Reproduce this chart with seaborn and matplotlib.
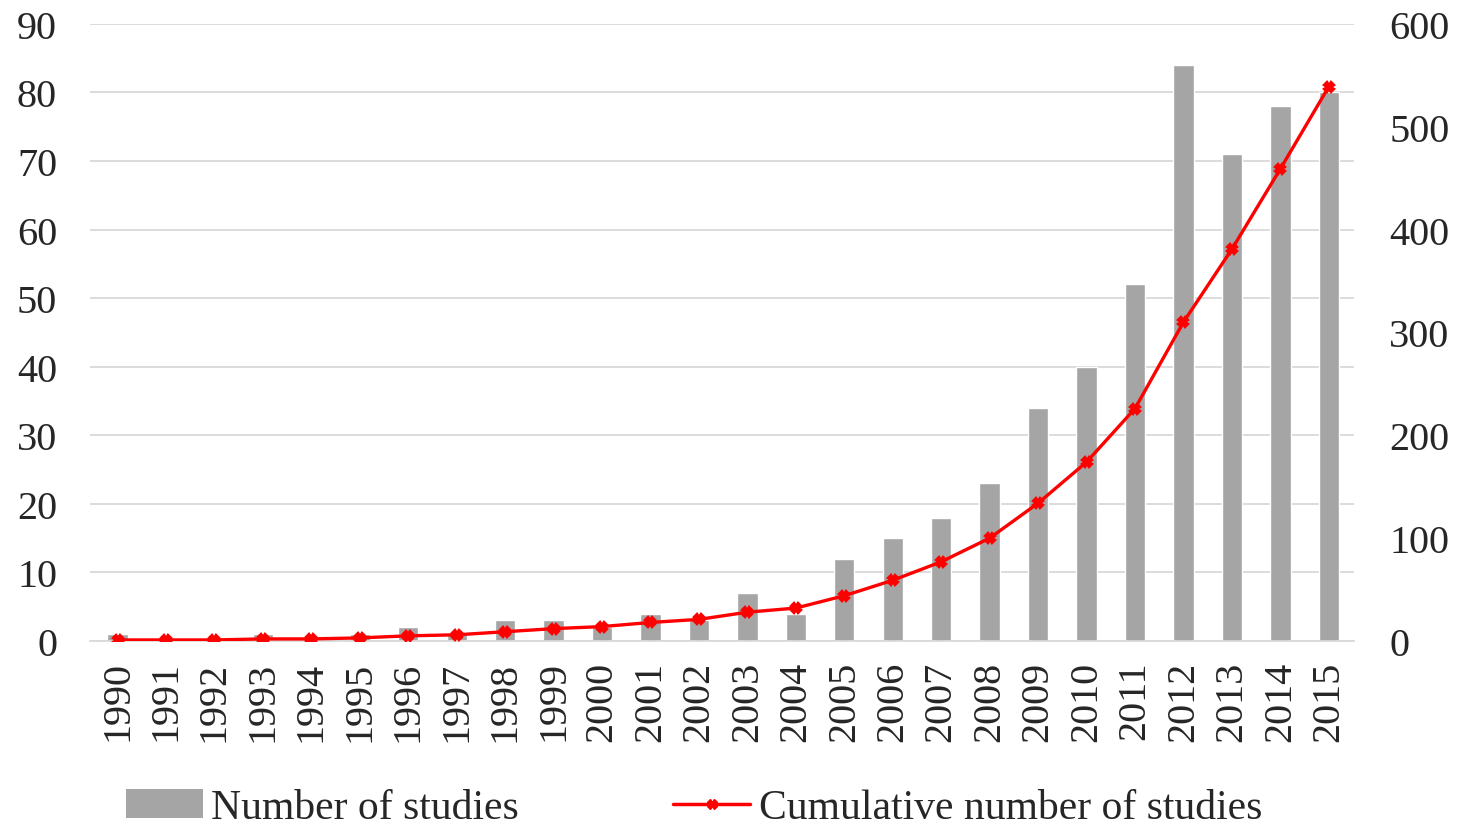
import numpy as np
import pandas as pd
import matplotlib.pyplot as plt
import seaborn as sns
from matplotlib.patches import Patch
from matplotlib.lines import Line2D

# data
years = [str(y) for y in range(1990, 2016)]
studies = [1, 0, 0, 1, 0, 1, 2, 1, 3, 3, 2, 4, 3, 7, 4, 12, 15, 18, 23, 34, 40, 52, 84, 71, 78, 80]
cumulative = [1, 1, 1, 2, 2, 3, 5, 6, 9, 12, 14, 18, 21, 28, 32, 44, 59, 77, 100, 134, 174, 226, 310, 381, 459, 539]

df = pd.DataFrame({'year': years, 'studies': studies, 'cumulative': cumulative})

sns.set_style('white')
plt.rcParams['font.family'] = ['Liberation Serif', 'DejaVu Serif']

fig = plt.figure(figsize=(14.58, 8.29), dpi=100)
ax = fig.add_axes([0.062, 0.2256, 0.867, 0.7444])

# bars (left axis)
sns.barplot(data=df, x='year', y='studies', color='#A5A5A5', width=0.42,
            saturation=1, ax=ax, zorder=2)
ax.set_ylim(0, 90)
ax.set_yticks(range(0, 91, 10))
ax.set_xlim(-0.56, 25.53)
ax.yaxis.grid(True, color='#D9D9D9', linewidth=1.3, zorder=0)
ax.set_axisbelow(True)
ax.set_xlabel('')
ax.set_ylabel('')
ax.tick_params(axis='y', labelsize=29, pad=24, length=0)
ax.tick_params(axis='x', labelsize=29, rotation=90, length=0, pad=14)
for s in ['top', 'left', 'right']:
    ax.spines[s].set_visible(False)
ax.spines['bottom'].set_color('#D9D9D9')
ax.spines['bottom'].set_linewidth(1.3)

# cumulative line (right axis)
ax2 = ax.twinx()
sns.pointplot(data=df, x='year', y='cumulative', color='#FF0000', marker='X',
              markersize=7, linewidth=2.4, ax=ax2)
ax2.set_ylim(0, 600)
ax2.set_yticks(range(0, 601, 100))
ax2.set_xlim(-0.56, 25.53)
ax2.set_ylabel('')
ax2.tick_params(axis='y', labelsize=29, pad=25, length=0)
for s in ['top', 'left', 'right', 'bottom']:
    ax2.spines[s].set_visible(False)

handles = [Patch(facecolor='#A5A5A5', edgecolor='none'),
           Line2D([0], [0], color='#FF0000', linewidth=2.5, marker='X', markersize=7)]
fig.legend(handles, ['Number of studies', 'Cumulative number of studies'],
           loc='center', bbox_to_anchor=(0.476, 0.024), ncol=2, frameon=False,
           fontsize=30, handlelength=1.85, handletextpad=0.2, columnspacing=3.7,
           borderpad=0, borderaxespad=0)

fig.savefig('out.png', dpi=100)
